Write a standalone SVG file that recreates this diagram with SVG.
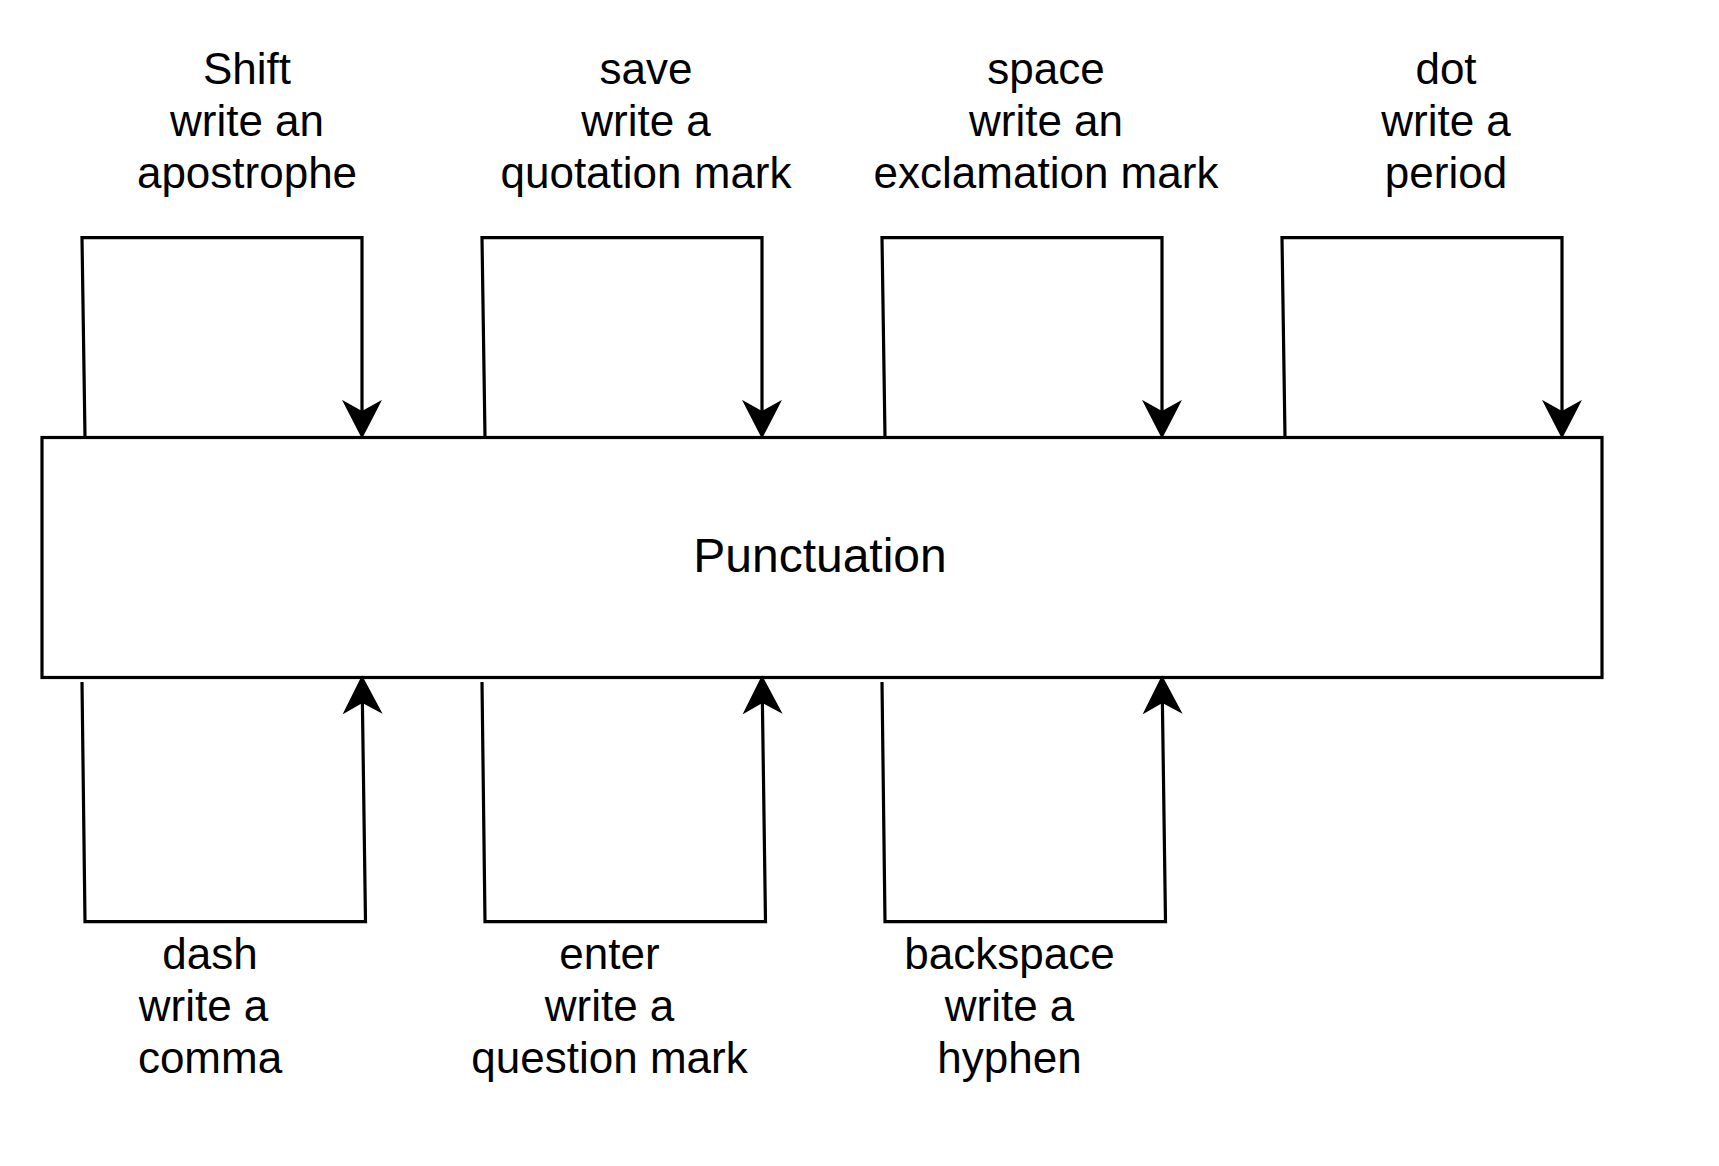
<svg xmlns="http://www.w3.org/2000/svg" width="1719" height="1166" viewBox="0 0 1719 1166">
<style>
.lbl{font-family:"Liberation Sans",Arial,sans-serif;font-size:44px;fill:#000;text-anchor:middle}
.main{font-family:"Liberation Sans",Arial,sans-serif;font-size:48px;fill:#000;text-anchor:middle}
.box{fill:#fff;stroke:#000;stroke-width:3.2}
.conn{fill:none;stroke:#000;stroke-width:3.2}
</style>
<defs>
<marker id="arr" markerUnits="userSpaceOnUse" markerWidth="40" markerHeight="40" viewBox="0 0 36 36" refX="10" refY="18" orient="auto">
<path d="M0,0 L35,18 L0,36 L10,18 Z" fill="#000"/>
</marker>
</defs>
<rect width="1719" height="1166" fill="#fff"/>
<g id="punctuation">
<rect class="box" x="42" y="437.5" width="1560" height="240"/>
<text class="main" x="820" y="572">Punctuation</text>
</g>
<g id="connectors">
<path class="conn" marker-end="url(#arr)" d="M85,437 L82,237.7 L362,237.7 L362,411"/>
<path class="conn" marker-end="url(#arr)" d="M485,437 L482,237.7 L762,237.7 L762,411"/>
<path class="conn" marker-end="url(#arr)" d="M885,437 L882,237.7 L1162,237.7 L1162,411"/>
<path class="conn" marker-end="url(#arr)" d="M1285,437 L1282,237.7 L1562,237.7 L1562,411"/>
<path class="conn" marker-end="url(#arr)" d="M82,682 L85,921.7 L365.5,921.7 L362.4,703"/>
<path class="conn" marker-end="url(#arr)" d="M482,682 L485,921.7 L765.5,921.7 L762.4,703"/>
<path class="conn" marker-end="url(#arr)" d="M882,682 L885,921.7 L1165.5,921.7 L1162.4,703"/>
</g>
<g id="label-shift">
<text class="lbl" x="247" y="84">Shift</text>
<text class="lbl" x="247" y="136">write an</text>
<text class="lbl" x="247" y="188">apostrophe</text>
</g>
<g id="label-save">
<text class="lbl" x="646" y="84">save</text>
<text class="lbl" x="646" y="136">write a</text>
<text class="lbl" x="646" y="188">quotation mark</text>
</g>
<g id="label-space">
<text class="lbl" x="1046" y="84">space</text>
<text class="lbl" x="1046" y="136">write an</text>
<text class="lbl" x="1046" y="188">exclamation mark</text>
</g>
<g id="label-dot">
<text class="lbl" x="1446" y="84">dot</text>
<text class="lbl" x="1446" y="136">write a</text>
<text class="lbl" x="1446" y="188">period</text>
</g>
<g id="label-dash">
<text class="lbl" x="210" y="969">dash</text>
<text class="lbl" x="203.5" y="1021">write a</text>
<text class="lbl" x="210" y="1073">comma</text>
</g>
<g id="label-enter">
<text class="lbl" x="609.5" y="969">enter</text>
<text class="lbl" x="609.5" y="1021">write a</text>
<text class="lbl" x="609.5" y="1073">question mark</text>
</g>
<g id="label-backspace">
<text class="lbl" x="1009.5" y="969">backspace</text>
<text class="lbl" x="1009.5" y="1021">write a</text>
<text class="lbl" x="1009.5" y="1073">hyphen</text>
</g>
</svg>
